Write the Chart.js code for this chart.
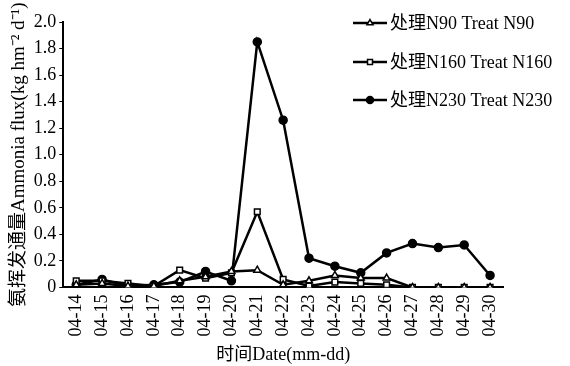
<!DOCTYPE html>
<html>
<head>
<meta charset="utf-8">
<script src="https://cdn.jsdelivr.net/npm/chart.js@4"></script>
<style>
  html, body { margin: 0; padding: 0; background: #fff; }
  #wrap { width: 570px; height: 366px; }
</style>
</head>
<body>
<div id="wrap"><canvas id="fluxChart"></canvas></div>
<script>
const dates = ["04-14", "04-15", "04-16", "04-17", "04-18", "04-19", "04-20", "04-21", "04-22",
  "04-23", "04-24", "04-25", "04-26", "04-27", "04-28", "04-29", "04-30"];
const n90 = [0.02, 0.03, 0.01, 0.01, 0.05, 0.08, 0.12, 0.13, 0.02, 0.05, 0.09, 0.07, 0.07, 0, 0, 0, 0];
const n160 = [0.05, 0.05, 0.03, 0.01, 0.13, 0.07, 0.11, 0.57, 0.06, 0.01, 0.04, 0.03, 0.02, 0, 0, 0, 0];
const n230 = [0.02, 0.06, 0.01, 0.02, 0.04, 0.12, 0.05, 1.85, 1.26, 0.22, 0.16, 0.11, 0.26, 0.33, 0.30, 0.32, 0.09];
const seriesNames = ["处理N90 Treat N90", "处理N160 Treat N160", "处理N230 Treat N230"];
const yTicks = [0, 0.2, 0.4, 0.6, 0.8, 1.0, 1.2, 1.4, 1.6, 1.8, 2.0];

const serif = "'Liberation Serif', 'Noto Sans CJK SC', serif";

// legend drawn inside the plot, top right, like the paper figure
const boxLegend = {
  id: "boxLegend",
  afterDraw(chart) {
    const ctx = chart.ctx;
    const rows = [23, 62, 100];
    const x0 = 353;
    chart.data.datasets.forEach((ds, i) => {
      const y = rows[i];
      ctx.save();
      ctx.strokeStyle = "#000";
      ctx.lineWidth = 2.5;
      ctx.beginPath();
      ctx.moveTo(x0, y);
      ctx.lineTo(x0 + 34, y);
      ctx.stroke();
      ctx.fillStyle = ds.pointBackgroundColor;
      ctx.strokeStyle = "#000";
      ctx.lineWidth = 1.5;
      Chart.helpers.drawPoint(ctx, { pointStyle: ds.pointStyle, radius: 3.5, borderWidth: 1.5 }, x0 + 17, y);
      ctx.fillStyle = "#000";
      ctx.font = "18px " + serif;
      ctx.textBaseline = "middle";
      ctx.fillText(ds.label, x0 + 37, y + 1);
      ctx.restore();
    });
  }
};

function makeSet(label, data, style, fill) {
  return {
    label: label,
    data: data,
    borderColor: "#000",
    borderWidth: 2.5,
    pointStyle: style,
    pointRadius: 4,
    pointBorderWidth: 1.5,
    pointBackgroundColor: fill,
    pointBorderColor: "#000",
    tension: 0
  };
}

new Chart(document.getElementById("fluxChart"), {
  type: "line",
  data: {
    labels: dates,
    datasets: [
      makeSet(seriesNames[0], n90, "triangle", "#fff"),
      makeSet(seriesNames[1], n160, "rect", "#fff"),
      makeSet(seriesNames[2], n230, "circle", "#000")
    ]
  },
  options: {
    responsive: true,
    maintainAspectRatio: false,
    animation: false,
    layout: { padding: { top: 22, right: 67, left: 8, bottom: 0 } },
    plugins: {
      legend: { display: false },
      tooltip: { enabled: false }
    },
    scales: {
      x: {
        offset: true,
        grid: { display: false, drawTicks: true, tickLength: 4, color: "#000" },
        border: { color: "#000", width: 2 },
        ticks: {
          color: "#000",
          font: { family: serif, size: 18 },
          minRotation: 90,
          maxRotation: 90,
          autoSkip: false,
          padding: 3
        },
        title: {
          display: true,
          text: "时间Date(mm-dd)",
          color: "#000",
          font: { family: serif, size: 18 },
          padding: { top: 5, bottom: 0 }
        }
      },
      y: {
        min: 0,
        max: 2.0,
        afterBuildTicks(axis) {
          axis.ticks = yTicks.map(v => ({ value: v }));
        },
        grid: { drawOnChartArea: false, tickLength: 4, color: "#000" },
        border: { color: "#000", width: 2 },
        ticks: {
          color: "#000",
          font: { family: serif, size: 18 },
          padding: 3,
          callback: v => v === 0 ? "0" : v.toFixed(1)
        },
        title: {
          display: true,
          text: "氨挥发通量Ammonia flux(kg hm⁻² d⁻¹)",
          color: "#000",
          font: { family: serif, size: 19 },
          padding: { top: 0, bottom: 0 }
        }
      }
    }
  },
  plugins: [boxLegend]
});
</script>
</body>
</html>
